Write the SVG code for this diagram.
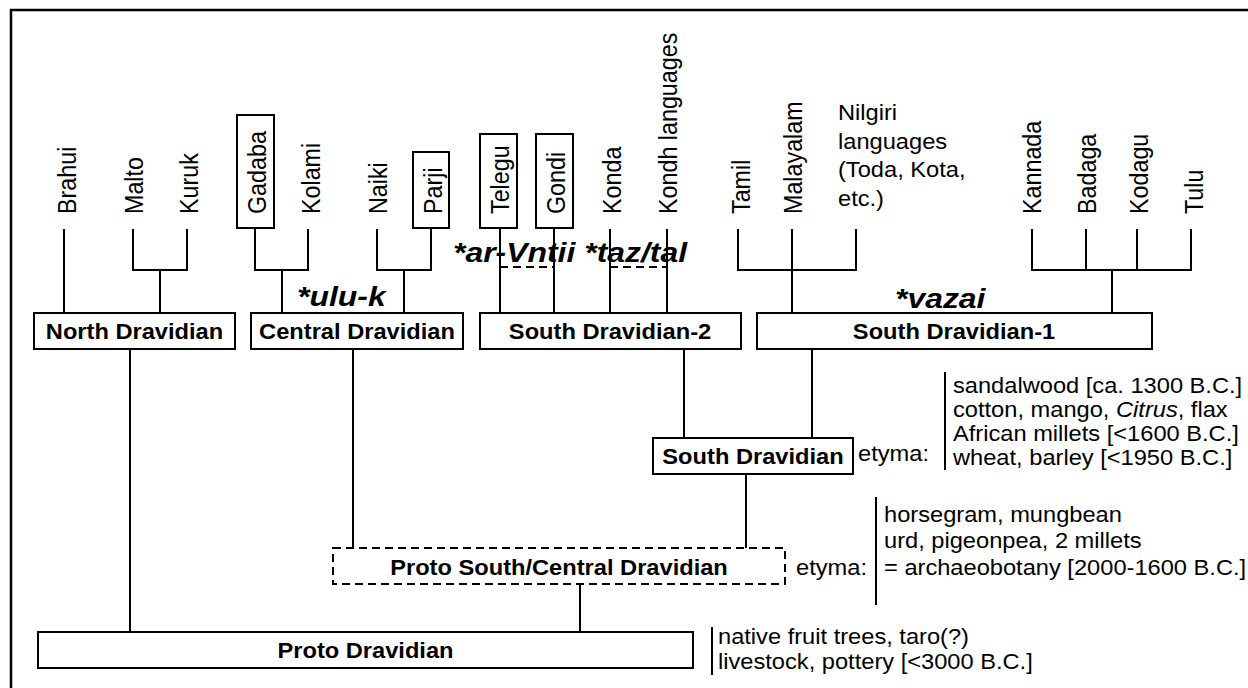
<svg xmlns="http://www.w3.org/2000/svg" width="1248" height="688" viewBox="0 0 1248 688">
<style>
text{font-family:"Liberation Sans",Arial,Helvetica,sans-serif;fill:#000}
.lf{font-size:23.3px}
.bl{font-size:21.5px;font-weight:bold;text-anchor:middle}
.rg{font-size:21.5px}
.it{font-size:28px;font-weight:bold;font-style:italic}
.bx{fill:#fff;stroke:#000;stroke-width:2}
.dbx{fill:#fff;stroke:#000;stroke-width:2;stroke-dasharray:8 5}
.ln{fill:none;stroke:#000;stroke-width:2}
.dl{fill:none;stroke:#000;stroke-width:2;stroke-dasharray:8 5}
</style>
<rect x="11" y="10" width="1260" height="700" fill="#fff" stroke="#000" stroke-width="2.5"/>
<g id="connectors">
<path class="ln" d="M64 229V313"/>
<path class="ln" d="M133 229V270H187V229M160 270V313"/>
<path class="ln" d="M255 228V270H308V229M282 270V313"/>
<path class="ln" d="M377 229V270H431V228M404 270V313"/>
<path class="ln" d="M500 228V313M554 228V313M610 229V313M667 229V313"/>
<path class="dl" d="M500 267H554M610 267H667"/>
<path class="ln" d="M738 229V270H856V229M792 229V313"/>
<path class="ln" d="M1032 229V270H1191V229M1086 229V270M1137 229V270M1112 270V313"/>
<path class="ln" d="M130 349V632"/>
<path class="ln" d="M353 349V548"/>
<path class="ln" d="M580 584V632"/>
<path class="ln" d="M684 349V438"/>
<path class="ln" d="M812 349V438"/>
<path class="ln" d="M746 474V548"/>
</g>
<g id="leaf-brahui"><text class="lf" transform="translate(76,214) scale(1.1,1) rotate(-90)">Brahui</text></g>
<g id="leaf-malto"><text class="lf" transform="translate(143,214) scale(1.1,1) rotate(-90)">Malto</text></g>
<g id="leaf-kuruk"><text class="lf" transform="translate(198,214) scale(1.1,1) rotate(-90)">Kuruk</text></g>
<g id="leaf-gadaba"><rect class="bx" x="237" y="115" width="37" height="113"/><text class="lf" transform="translate(266,214) scale(1.1,1) rotate(-90)">Gadaba</text></g>
<g id="leaf-kolami"><text class="lf" transform="translate(320,214) scale(1.1,1) rotate(-90)">Kolami</text></g>
<g id="leaf-naiki"><text class="lf" transform="translate(387,214) scale(1.1,1) rotate(-90)">Naiki</text></g>
<g id="leaf-parji"><rect class="bx" x="413" y="152" width="36" height="76"/><text class="lf" transform="translate(442,214) scale(1.1,1) rotate(-90)">Parji</text></g>
<g id="leaf-telegu"><rect class="bx" x="480" y="134" width="37" height="94"/><text class="lf" transform="translate(509,214) scale(1.1,1) rotate(-90)">Telegu</text></g>
<g id="leaf-gondi"><rect class="bx" x="536" y="134" width="37" height="94"/><text class="lf" transform="translate(565,214) scale(1.1,1) rotate(-90)">Gondi</text></g>
<g id="leaf-konda"><text class="lf" transform="translate(621,214) scale(1.1,1) rotate(-90)">Konda</text></g>
<g id="leaf-kondh"><text class="lf" transform="translate(677,214) scale(1.1,1) rotate(-90)">Kondh languages</text></g>
<g id="leaf-tamil"><text class="lf" transform="translate(750,214) scale(1.1,1) rotate(-90)">Tamil</text></g>
<g id="leaf-malayalam"><text class="lf" transform="translate(802,214) scale(1.1,1) rotate(-90)">Malayalam</text></g>
<g id="leaf-nilgiri"><text class="rg" transform="translate(838,120) scale(1.1,1)">Nilgiri</text><text class="rg" transform="translate(838,148.5) scale(1.1,1)">languages</text><text class="rg" transform="translate(838,177) scale(1.1,1)">(Toda, Kota,</text><text class="rg" transform="translate(838,205.5) scale(1.1,1)">etc.)</text></g>
<g id="leaf-kannada"><text class="lf" transform="translate(1041,214) scale(1.1,1) rotate(-90)">Kannada</text></g>
<g id="leaf-badaga"><text class="lf" transform="translate(1096,214) scale(1.1,1) rotate(-90)">Badaga</text></g>
<g id="leaf-kodagu"><text class="lf" transform="translate(1148,214) scale(1.1,1) rotate(-90)">Kodagu</text></g>
<g id="leaf-tulu"><text class="lf" transform="translate(1203,214) scale(1.1,1) rotate(-90)">Tulu</text></g>
<g id="label-ulu"><text class="it" transform="translate(297,306) scale(1.14,1)">*ulu-k</text></g>
<g id="label-arvntii"><text class="it" transform="translate(453,262) scale(1.14,1)">*ar-Vntii *taz/tal</text></g>
<g id="label-vazai"><text class="it" transform="translate(895,308) scale(1.14,1)">*vazai</text></g>
<g id="north-dravidian"><rect class="bx" x="34" y="313" width="201" height="36"/><text class="bl" transform="translate(134.5,339) scale(1.1,1)">North Dravidian</text></g>
<g id="central-dravidian"><rect class="bx" x="251" y="313" width="212" height="36"/><text class="bl" transform="translate(357,339) scale(1.1,1)">Central Dravidian</text></g>
<g id="south-dravidian-2"><rect class="bx" x="480" y="313" width="261" height="36"/><text class="bl" transform="translate(610,339) scale(1.1,1)">South Dravidian-2</text></g>
<g id="south-dravidian-1"><rect class="bx" x="757" y="313" width="395" height="36"/><text class="bl" transform="translate(954,339) scale(1.1,1)">South Dravidian-1</text></g>
<g id="south-dravidian"><rect class="bx" x="653" y="438" width="200" height="36"/><text class="bl" transform="translate(753,464) scale(1.1,1)">South Dravidian</text></g>
<g id="proto-south-central"><rect class="dbx" x="333" y="548" width="452" height="36"/><text class="bl" transform="translate(559,575) scale(1.1,1)">Proto South/Central Dravidian</text></g>
<g id="proto-dravidian"><rect class="bx" x="38" y="632" width="655" height="36"/><text class="bl" transform="translate(365.5,658) scale(1.1,1)">Proto Dravidian</text></g>
<g id="etyma-sd">
<text class="rg" transform="translate(858,461) scale(1.1,1)">etyma:</text>
<path class="ln" d="M945 372V470"/>
<text class="rg" transform="translate(953,393) scale(1.1,1)">sandalwood [ca. 1300 B.C.]</text>
<text class="rg" transform="translate(953,417) scale(1.1,1)">cotton, mango, <tspan font-style="italic">Citrus</tspan>, flax</text>
<text class="rg" transform="translate(953,441) scale(1.1,1)">African millets [&lt;1600 B.C.]</text>
<text class="rg" transform="translate(953,465) scale(1.1,1)">wheat, barley [&lt;1950 B.C.]</text>
</g>
<g id="etyma-psc">
<text class="rg" transform="translate(796,575) scale(1.1,1)">etyma:</text>
<path class="ln" d="M876 497V605"/>
<text class="rg" transform="translate(884,522) scale(1.1,1)">horsegram, mungbean</text>
<text class="rg" transform="translate(884,548) scale(1.1,1)">urd, pigeonpea, 2 millets</text>
<text class="rg" transform="translate(884,575) scale(1.1,1)">= archaeobotany [2000-1600 B.C.]</text>
</g>
<g id="etyma-pd">
<path class="ln" d="M712 627V675"/>
<text class="rg" transform="translate(718,644) scale(1.1,1)">native fruit trees, taro(?)</text>
<text class="rg" transform="translate(718,669) scale(1.1,1)">livestock, pottery [&lt;3000 B.C.]</text>
</g>
</svg>
